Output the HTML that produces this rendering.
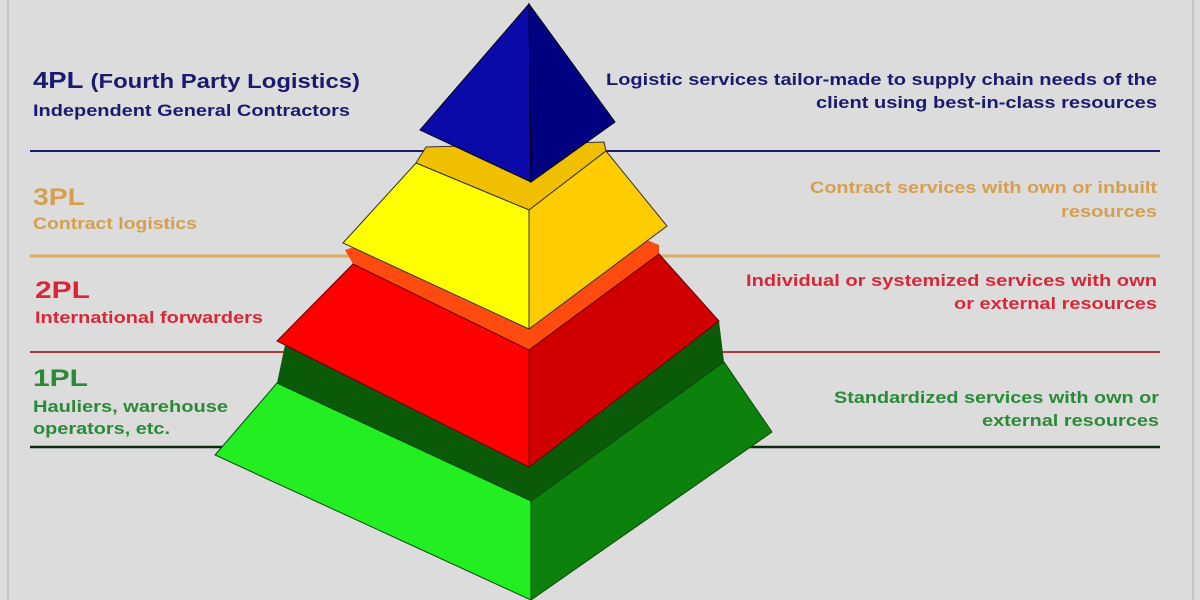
<!DOCTYPE html>
<html><head><meta charset="utf-8"><style>
html,body{margin:0;padding:0;background:#dcdcdc;}
svg{display:block;font-family:"Liberation Sans",sans-serif;font-weight:bold;}
</style></head><body>
<svg width="1200" height="600" viewBox="0 0 1200 600" xmlns="http://www.w3.org/2000/svg">
<rect width="1200" height="600" fill="#dcdcdc"/>
<line x1="8" y1="0" x2="8" y2="600" stroke="#c4c4c4" stroke-width="2"/>
<line x1="1193" y1="0" x2="1193" y2="600" stroke="#c4c4c4" stroke-width="2"/>
<line x1="30" y1="151" x2="1160" y2="151" stroke="#1c1c6a" stroke-width="2"/>
<line x1="30" y1="256" x2="1160" y2="256" stroke="#d8b060" stroke-width="3"/>
<line x1="30" y1="352" x2="1160" y2="352" stroke="#b03838" stroke-width="2"/>
<line x1="30" y1="447" x2="1160" y2="447" stroke="#0e2a10" stroke-width="2.5"/>
<g>
<text x="33" y="88" fill="#1a1a6e" font-size="23" textLength="327" lengthAdjust="spacingAndGlyphs">4PL <tspan font-size="20">(Fourth Party Logistics)</tspan></text>
<text x="33" y="116" fill="#1a1a6e" font-size="17" textLength="317" lengthAdjust="spacingAndGlyphs">Independent General Contractors</text>
<text x="33" y="205" fill="#d4a050" font-size="24" textLength="52" lengthAdjust="spacingAndGlyphs">3PL</text>
<text x="33" y="229" fill="#d4a050" font-size="17" textLength="164" lengthAdjust="spacingAndGlyphs">Contract logistics</text>
<text x="35" y="298" fill="#d82838" font-size="24" textLength="55" lengthAdjust="spacingAndGlyphs">2PL</text>
<text x="35" y="323" fill="#d82838" font-size="17" textLength="228" lengthAdjust="spacingAndGlyphs">International forwarders</text>
<text x="33" y="386" fill="#2a8a38" font-size="24" textLength="55" lengthAdjust="spacingAndGlyphs">1PL</text>
<text x="33" y="412" fill="#2a8a38" font-size="17" textLength="195" lengthAdjust="spacingAndGlyphs">Hauliers, warehouse</text>
<text x="33" y="434" fill="#2a8a38" font-size="17" textLength="137" lengthAdjust="spacingAndGlyphs">operators, etc.</text>
</g>
<g font-size="17">
<text x="606" y="85" fill="#1a1a6e" textLength="551" lengthAdjust="spacingAndGlyphs">Logistic services tailor-made to supply chain needs of the</text>
<text x="816" y="108" fill="#1a1a6e" textLength="341" lengthAdjust="spacingAndGlyphs">client using best-in-class resources</text>
<text x="810" y="193" fill="#d4a050" textLength="347" lengthAdjust="spacingAndGlyphs">Contract services with own or inbuilt</text>
<text x="1061" y="217" fill="#d4a050" textLength="96" lengthAdjust="spacingAndGlyphs">resources</text>
<text x="746" y="286" fill="#d82838" textLength="411" lengthAdjust="spacingAndGlyphs">Individual or systemized services with own</text>
<text x="954" y="309" fill="#d82838" textLength="203" lengthAdjust="spacingAndGlyphs">or external resources</text>
<text x="834" y="403" fill="#2a8a38" textLength="325" lengthAdjust="spacingAndGlyphs">Standardized services with own or</text>
<text x="982" y="426" fill="#2a8a38" textLength="177" lengthAdjust="spacingAndGlyphs">external resources</text>
</g>
<!-- green tier -->
<polygon points="277,383 285,345 529,260 719,321 724,362 531,501" fill="#0a5a0a"/>
<polygon points="277,383 531,501 531,600 215,455" fill="#22ee22" stroke="#0a4a0a" stroke-width="1"/>
<polygon points="531,501 724,362 772,432 531,600" fill="#0c820c" stroke="#0a4a0a" stroke-width="1"/>
<!-- red tier -->
<polygon points="345,250 529,190 659,245 659,254 529,350 353,264" fill="#ff4a10"/>
<polygon points="353,264 529,350 529,467 277,341" fill="#ff0000" stroke="#600" stroke-width="1"/>
<polygon points="529,350 659,254 719,321 529,467" fill="#d00000" stroke="#600" stroke-width="1"/>
<!-- yellow tier -->
<polygon points="416,163 426,147 604,142 606,151 529,210" fill="#f0c000" stroke="#333" stroke-width="1"/>
<polygon points="416,163 529,210 529,329 343,243" fill="#ffff00" stroke="#333" stroke-width="1"/>
<polygon points="529,210 606,151 667,226 529,329" fill="#ffcc00" stroke="#333" stroke-width="1"/>
<!-- blue tip -->
<polygon points="529,4 420,130 531,182" fill="#0a0aa8" stroke="#001" stroke-width="1"/>
<polygon points="529,4 615,122 531,182" fill="#000080" stroke="#001" stroke-width="1"/>
</svg>
</body></html>
